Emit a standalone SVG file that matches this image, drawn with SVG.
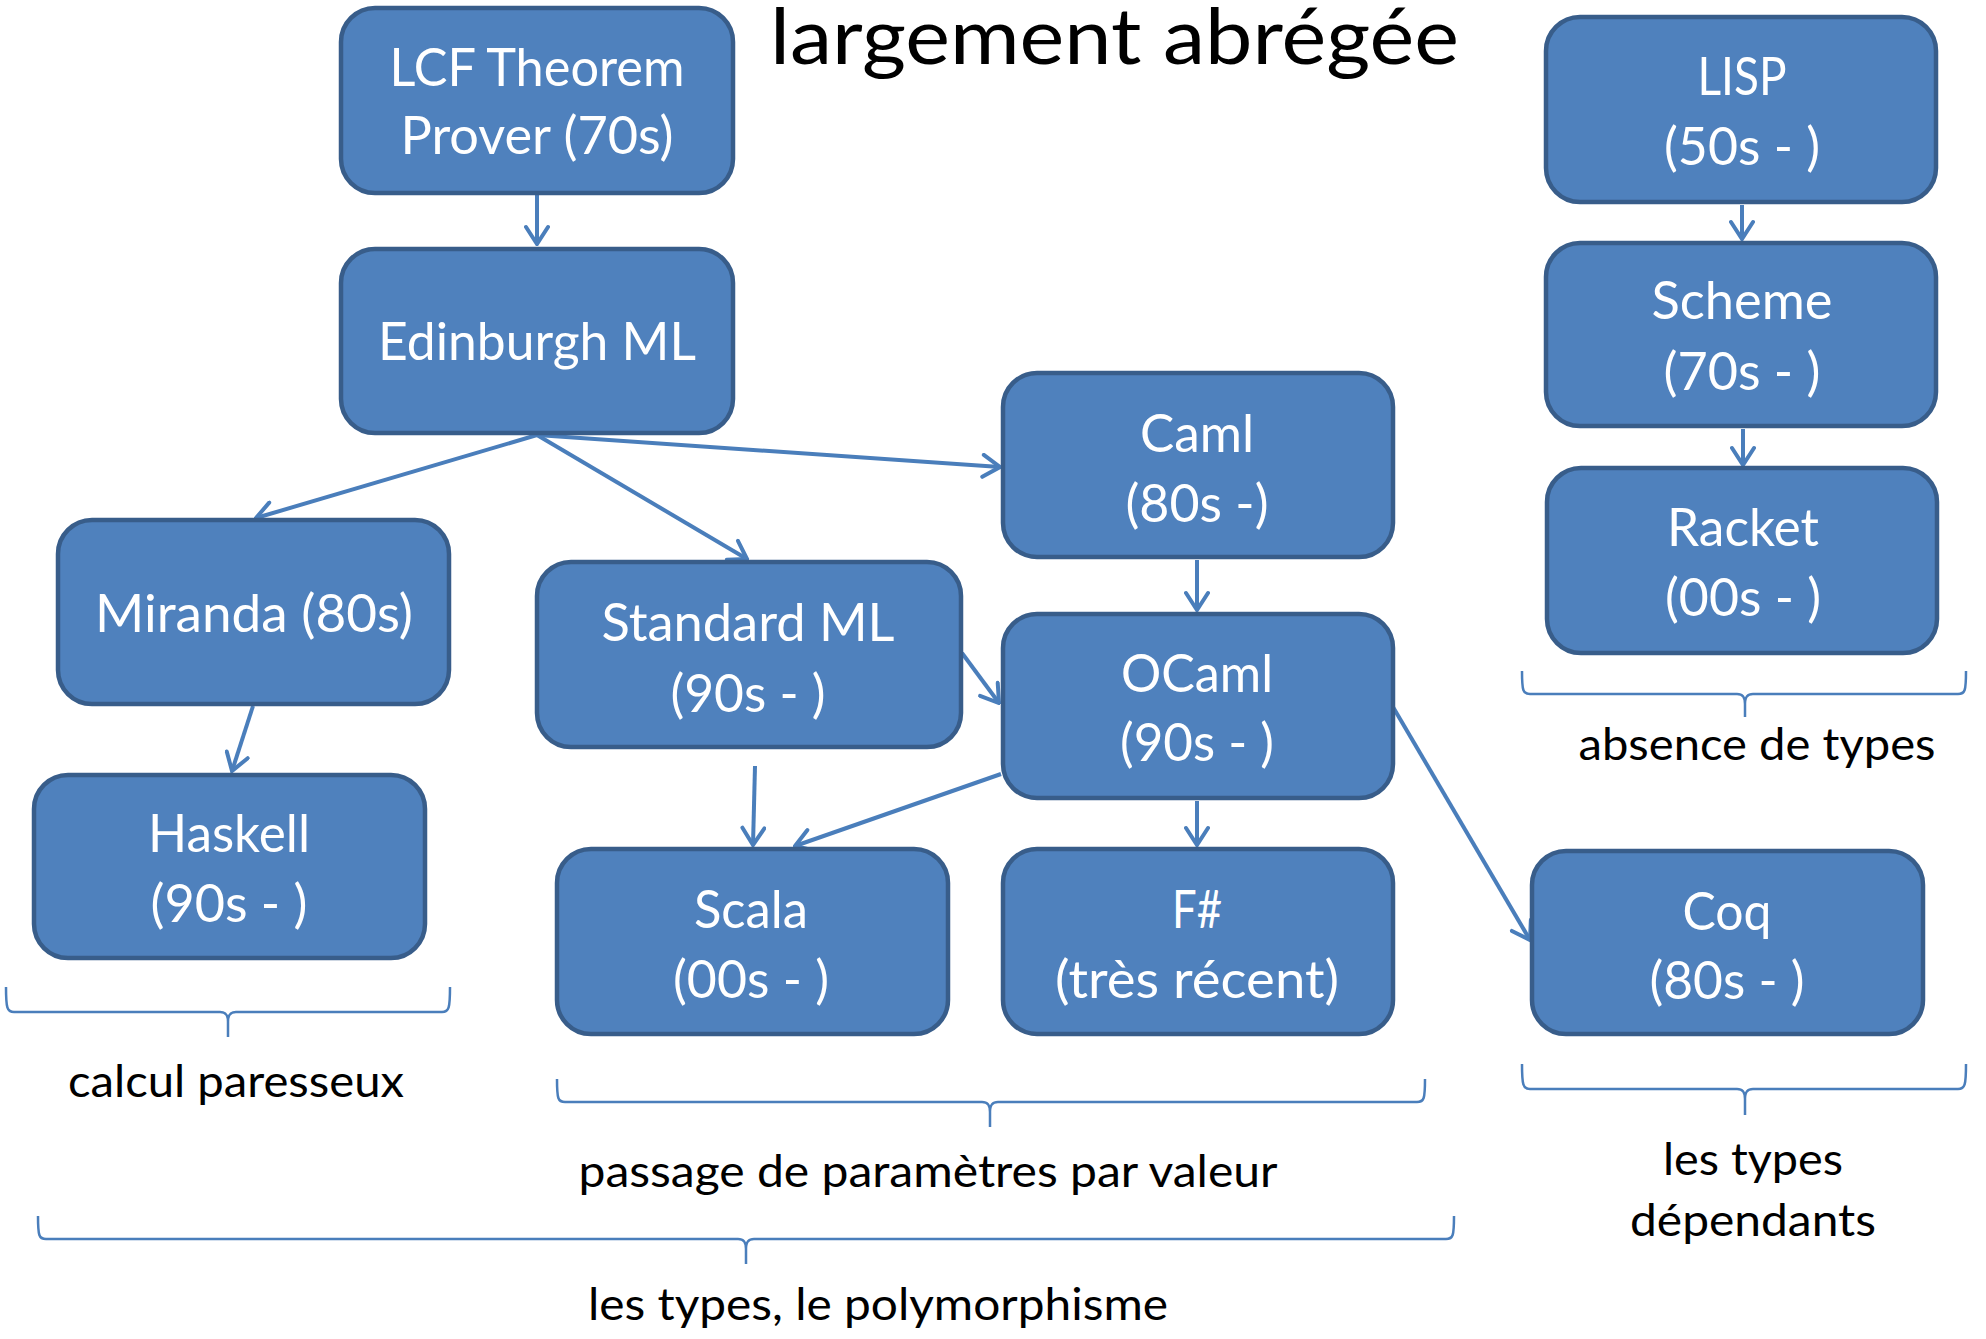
<svg xmlns="http://www.w3.org/2000/svg" width="1986" height="1339" viewBox="0 0 1986 1339">
<style>
.box{fill:#4F81BD;stroke:#385D8A;stroke-width:4.5}
.nt{font-family:Lato,"Open Sans","Liberation Sans",sans-serif;font-size:52px;fill:#fff;text-anchor:middle}
.lb{font-family:Lato,"Open Sans","Liberation Sans",sans-serif;font-size:45px;fill:#000;text-anchor:middle}
.ttl{font-family:Lato,"Open Sans","Liberation Sans",sans-serif;font-size:77px;fill:#000}
.edge{fill:none;stroke:#4A7EBB;stroke-width:4;marker-end:url(#arr)}
.brace{fill:none;stroke:#4A7EBB;stroke-width:2.5}
</style>
<defs>
<marker id="arr" viewBox="0 0 22 26" refX="20" refY="13" markerWidth="22" markerHeight="26" markerUnits="userSpaceOnUse" orient="auto">
<path d="M3,2 L20,13 L3,24" fill="none" stroke="#4A7EBB" stroke-width="4" stroke-linecap="round"/>
</marker>
</defs>
<rect width="1986" height="1339" fill="#fff"/>
<text class="ttl" x="770" y="64" textLength="689" lengthAdjust="spacingAndGlyphs">largement abrégée</text>

<g id="connectors">
<path class="edge" d="M537,195 L537,244"/>
<path class="edge" d="M537,435 L256,518"/>
<path class="edge" d="M537,435 L747,559"/>
<path class="edge" d="M537,435 L1000,467"/>
<path class="edge" d="M1197,560 L1197,610"/>
<path class="edge" d="M253,706 L232,771"/>
<path class="edge" d="M962,653 L999,703"/>
<path class="edge" d="M755,766 L753,845"/>
<path class="edge" d="M1001,774 L795,846"/>
<path class="edge" d="M1197,801 L1197,845"/>
<path class="edge" d="M1393,707 L1530,940"/>
<path class="edge" d="M1742,205 L1742,239"/>
<path class="edge" d="M1743,429 L1743,465"/>
</g>

<g id="lcf"><rect class="box" x="341" y="8" width="392" height="185" rx="34"/>
<text class="nt" x="537" y="86" textLength="295" lengthAdjust="spacingAndGlyphs">LCF Theorem</text>
<text class="nt" x="537" y="154" textLength="273" lengthAdjust="spacingAndGlyphs">Prover (70s)</text></g>

<g id="edinburgh"><rect class="box" x="341" y="249" width="392" height="184" rx="34"/>
<text class="nt" x="537" y="360" textLength="318" lengthAdjust="spacingAndGlyphs">Edinburgh ML</text></g>

<g id="caml"><rect class="box" x="1003" y="373" width="390" height="184" rx="34"/>
<text class="nt" x="1197" y="452" textLength="114" lengthAdjust="spacingAndGlyphs">Caml</text>
<text class="nt" x="1197" y="522" textLength="143" lengthAdjust="spacingAndGlyphs">(80s -)</text></g>

<g id="miranda"><rect class="box" x="58" y="520" width="391" height="184" rx="34"/>
<text class="nt" x="254" y="632" textLength="318" lengthAdjust="spacingAndGlyphs">Miranda (80s)</text></g>

<g id="standardml"><rect class="box" x="537" y="562" width="424" height="185" rx="34"/>
<text class="nt" x="748" y="641" textLength="293" lengthAdjust="spacingAndGlyphs">Standard ML</text>
<text class="nt" x="748" y="712" textLength="155" lengthAdjust="spacingAndGlyphs">(90s - )</text></g>

<g id="ocaml"><rect class="box" x="1003" y="614" width="390" height="184" rx="34"/>
<text class="nt" x="1197" y="692" textLength="152" lengthAdjust="spacingAndGlyphs">OCaml</text>
<text class="nt" x="1197" y="761" textLength="154" lengthAdjust="spacingAndGlyphs">(90s - )</text></g>

<g id="haskell"><rect class="box" x="34" y="775" width="391" height="183" rx="34"/>
<text class="nt" x="229" y="852" textLength="162" lengthAdjust="spacingAndGlyphs">Haskell</text>
<text class="nt" x="229" y="922" textLength="157" lengthAdjust="spacingAndGlyphs">(90s - )</text></g>

<g id="scala"><rect class="box" x="557" y="849" width="391" height="185" rx="34"/>
<text class="nt" x="751" y="928" textLength="114" lengthAdjust="spacingAndGlyphs">Scala</text>
<text class="nt" x="751" y="998" textLength="156" lengthAdjust="spacingAndGlyphs">(00s - )</text></g>

<g id="fsharp"><rect class="box" x="1003" y="849" width="390" height="185" rx="34"/>
<text class="nt" x="1197" y="928" textLength="50" lengthAdjust="spacingAndGlyphs">F#</text>
<text class="nt" x="1197" y="998" textLength="284" lengthAdjust="spacingAndGlyphs">(très récent)</text></g>

<g id="coq"><rect class="box" x="1532" y="851" width="391" height="183" rx="34"/>
<text class="nt" x="1727" y="930" textLength="89" lengthAdjust="spacingAndGlyphs">Coq</text>
<text class="nt" x="1727" y="999" textLength="155" lengthAdjust="spacingAndGlyphs">(80s - )</text></g>

<g id="lisp"><rect class="box" x="1546" y="17" width="390" height="185" rx="34"/>
<text class="nt" x="1742" y="95" textLength="89" lengthAdjust="spacingAndGlyphs">LISP</text>
<text class="nt" x="1742" y="165" textLength="156" lengthAdjust="spacingAndGlyphs">(50s - )</text></g>

<g id="scheme"><rect class="box" x="1546" y="243" width="390" height="183" rx="34"/>
<text class="nt" x="1742" y="319" textLength="181" lengthAdjust="spacingAndGlyphs">Scheme</text>
<text class="nt" x="1742" y="390" textLength="157" lengthAdjust="spacingAndGlyphs">(70s - )</text></g>

<g id="racket"><rect class="box" x="1547" y="468" width="390" height="185" rx="34"/>
<text class="nt" x="1743" y="546" textLength="152" lengthAdjust="spacingAndGlyphs">Racket</text>
<text class="nt" x="1743" y="616" textLength="156" lengthAdjust="spacingAndGlyphs">(00s - )</text></g>

<g id="braces">
<path class="brace" d="M6,987 C6,1008 7,1012 14,1012 L220,1012 C226,1012 228,1015 228,1022 L228,1037 M228,1022 C228,1015 230,1012 236,1012 L442,1012 C449,1012 450,1008 450,987"/>
<path class="brace" d="M557,1079 C557,1099 558,1102 565,1102 L982,1102 C988,1102 990,1105 990,1112 L990,1127 M990,1112 C990,1105 992,1102 998,1102 L1417,1102 C1424,1102 1425,1099 1425,1079"/>
<path class="brace" d="M38,1216 C38,1236 39,1239 46,1239 L738,1239 C744,1239 746,1242 746,1249 L746,1264 M746,1249 C746,1242 748,1239 754,1239 L1446,1239 C1453,1239 1454,1236 1454,1216"/>
<path class="brace" d="M1522,671 C1522,691 1523,694 1530,694 L1737,694 C1743,694 1745,697 1745,704 L1745,717 M1745,704 C1745,697 1747,694 1753,694 L1958,694 C1965,694 1966,691 1966,671"/>
<path class="brace" d="M1522,1064 C1522,1085 1523,1089 1530,1089 L1737,1089 C1743,1089 1745,1092 1745,1099 L1745,1115 M1745,1099 C1745,1092 1747,1089 1753,1089 L1958,1089 C1965,1089 1966,1085 1966,1064"/>
</g>

<g id="labels">
<text class="lb" x="236" y="1097" textLength="336" lengthAdjust="spacingAndGlyphs">calcul paresseux</text>
<text class="lb" x="928" y="1187" textLength="699" lengthAdjust="spacingAndGlyphs">passage de paramètres par valeur</text>
<text class="lb" x="878" y="1320" textLength="580" lengthAdjust="spacingAndGlyphs">les types, le polymorphisme</text>
<text class="lb" x="1757" y="760" textLength="357" lengthAdjust="spacingAndGlyphs">absence de types</text>
<text class="lb" x="1753" y="1175" textLength="180" lengthAdjust="spacingAndGlyphs">les types</text>
<text class="lb" x="1753" y="1236" textLength="246" lengthAdjust="spacingAndGlyphs">dépendants</text>
</g>
</svg>
